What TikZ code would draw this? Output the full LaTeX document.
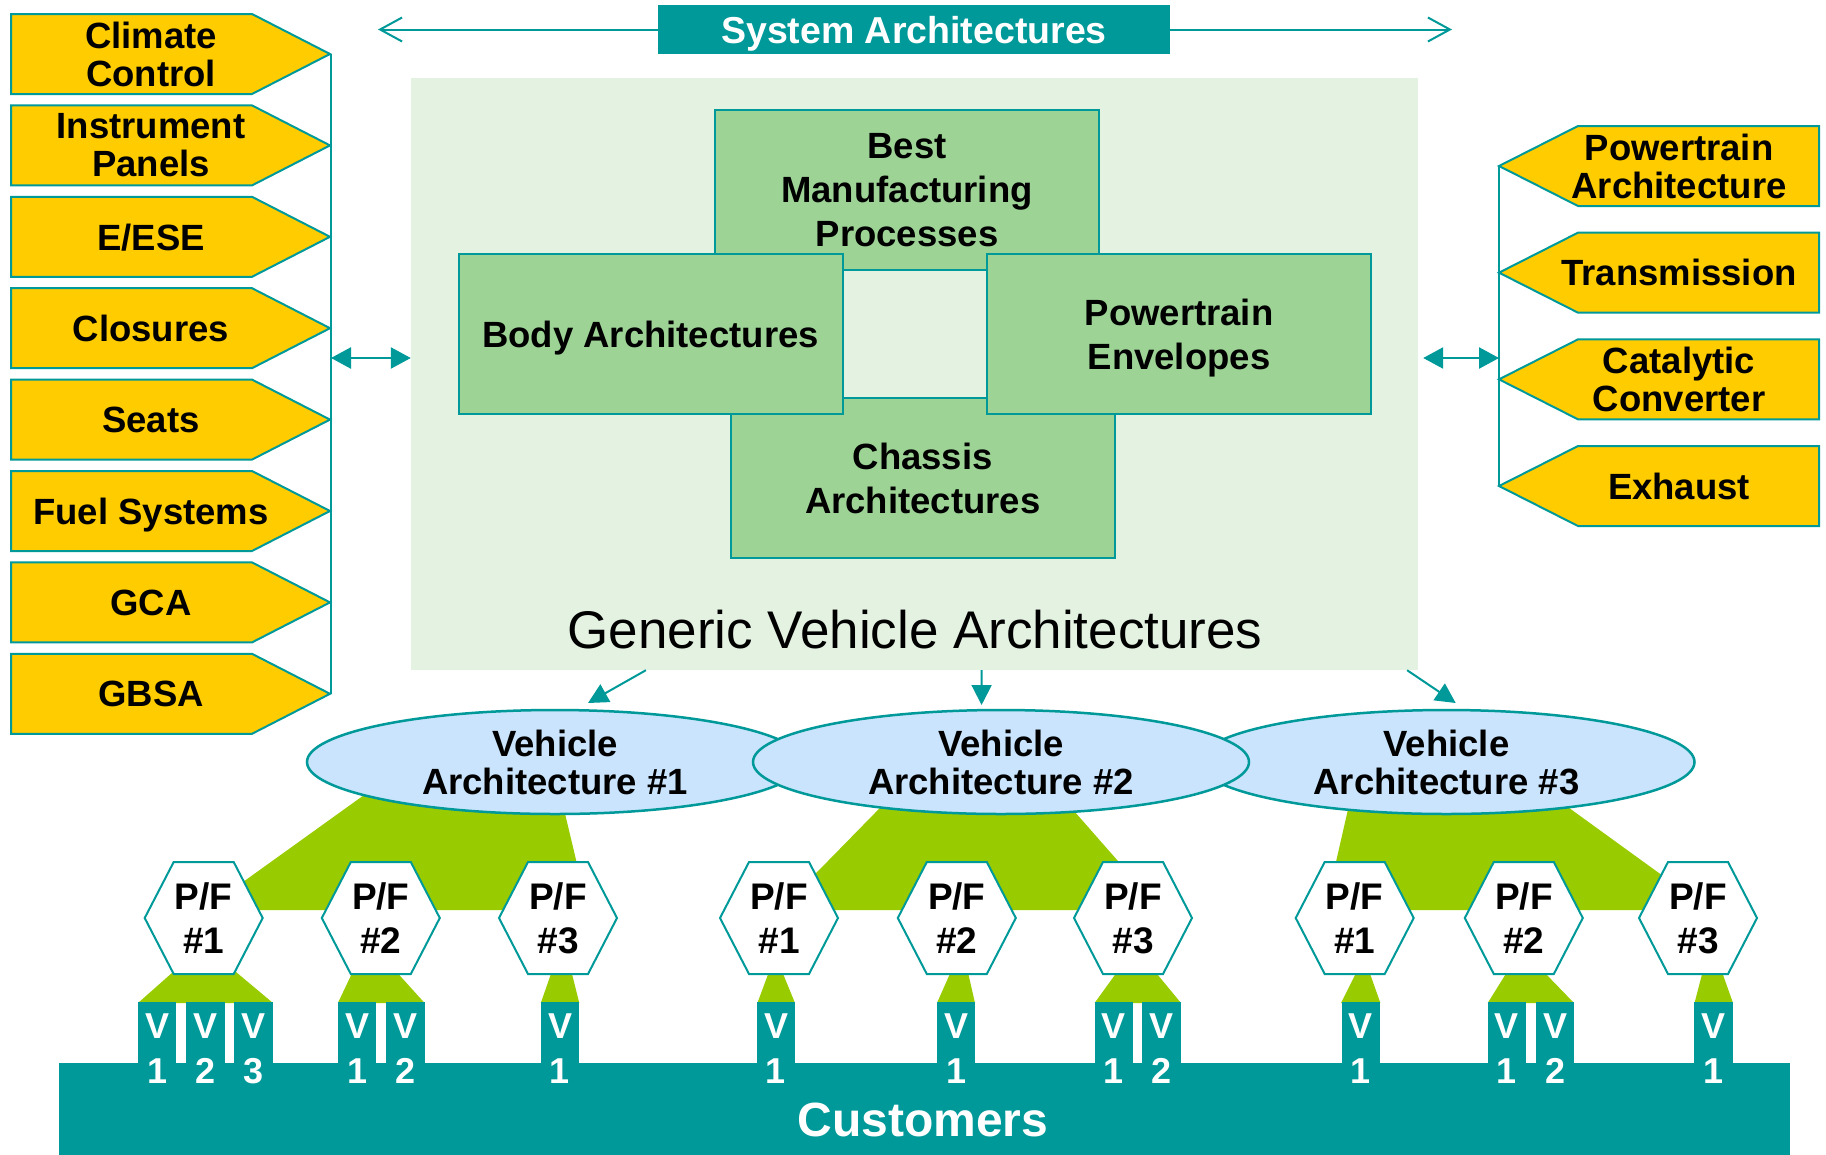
\documentclass[tikz,border=0pt]{standalone}
\usepackage{fontspec}
\setmainfont{Liberation Sans}
\usetikzlibrary{arrows.meta,calc,shapes.geometric}
\definecolor{tealc}{HTML}{009999}
\definecolor{yel}{HTML}{FFCC00}
\definecolor{limec}{HTML}{99CC00}
\definecolor{boxg}{HTML}{9DD496}
\definecolor{bgg}{HTML}{E4F2E2}
\definecolor{ellc}{HTML}{C9E4FC}
\tikzset{
  ybox/.style={fill=yel, draw=tealc, line width=2pt, line join=miter},
  ytext/.style={font=\fontsize{36.5}{38}\selectfont\bfseries, align=center, text depth=0pt, inner sep=0pt},
  bus/.style={draw=tealc, line width=2pt},
  dbl/.style={{Triangle[length=20pt,width=21pt]}-{Triangle[length=20pt,width=21pt]}, draw=tealc, fill=tealc, line width=2.5pt},
  dnarr/.style={-{Triangle[length=20pt,width=20pt]}, draw=tealc, fill=tealc, line width=2pt},
  sysarr/.style={-{Straight Barb[length=22pt,width=24pt]}, draw=tealc, line width=2pt},
  sysbox/.style={fill=tealc, text=white, minimum width=512, minimum height=49, inner sep=0pt, text depth=0pt, font=\fontsize{37.5}{40}\selectfont\bfseries},
  bgbox/.style={fill=bgg, minimum width=1007, minimum height=592, inner sep=0pt},
  ibox/.style={fill=boxg, draw=tealc, line width=2pt, minimum width=384, minimum height=160, inner sep=0pt, align=center, text depth=0pt, font=\fontsize{36.5}{44}\selectfont\bfseries},
  gentext/.style={font=\fontsize{53}{60}\selectfont, inner sep=0pt, text depth=0pt},
  vaell/.style={ellipse, fill=ellc, draw=tealc, line width=2.5pt, minimum width=496, minimum height=104, inner sep=0pt, align=center, text depth=0pt, font=\fontsize{36.5}{38}\selectfont\bfseries},
  fan/.style={fill=limec},
  hexs/.style={fill=white, draw=tealc, line width=2pt, line join=miter},
  hext/.style={align=center, inner sep=0pt, text depth=0pt, font=\fontsize{37}{44}\selectfont\bfseries},
  vbox/.style={anchor=north, fill=tealc, text=white, minimum width=38.5, inner xsep=0pt, inner ysep=11.3pt, align=center, text depth=0pt, font=\fontsize{36}{45}\selectfont\bfseries},
  custbar/.style={fill=tealc, minimum width=1731, minimum height=92, inner sep=0pt, anchor=north west},
  custtext/.style={text=white, inner sep=0pt, text depth=0pt, font=\fontsize{48}{52}\selectfont\bfseries}
}
\begin{document}
\begin{tikzpicture}[x=1pt,y=-1pt]
\useasboundingbox (0,0) rectangle (1826,1154);

% background of generic vehicle architectures
\node[bgbox] (gva) at (914.5,374) {};
\node[ibox] (best) at (907,190) {Best\\Manufacturing\\Processes};
\node[ibox] (chassis) at (922.7,478) {Chassis\\Architectures};
\node[ibox] (body) at (650.5,334) {Body Architectures};
\node[ibox] (pte) at (1179,334) {Powertrain\\Envelopes};
\node[gentext] (gen) at (915,629.5) {Generic Vehicle Architectures};

% system architectures
\node[sysbox] (sys) at (914,29.5) {System Architectures};
\coordinate (sysl) at (378,29.5);
\coordinate (sysr) at (1452,29.5);
\draw[sysarr] (sys.west) -- (sysl);
\draw[sysarr] (sys.east) -- (sysr);

% left yellow boxes
\foreach \i/\txt in {0/{Climate\\Control},1/{Instrument\\Panels},2/{E/ESE},3/{Closures},4/{Seats},5/{Fuel Systems},6/{GCA},7/{GBSA}}{
  \pgfmathsetmacro\t{14+91.4*\i}
  \draw[ybox] (11,\t) -- (252,\t) -- (330,{\t+40}) -- (252,{\t+80}) -- (11,{\t+80}) -- cycle;
  \node[ytext] (l\i) at (151,{\t+40}) {\txt};
  \coordinate (lt\i) at (331,{\t+40});
}
\draw[bus] (lt0) -- (lt7);
\coordinate (lbus) at (331,358);
\draw[dbl] (lbus) -- (gva.west |- lbus);

% right yellow boxes
\foreach \i/\txt in {0/{Powertrain\\Architecture},1/{Transmission},2/{Catalytic\\Converter},3/{Exhaust}}{
  \pgfmathsetmacro\t{126+106.67*\i}
  \draw[ybox] (1819,\t) -- (1578,\t) -- (1499,{\t+40}) -- (1578,{\t+80}) -- (1819,{\t+80}) -- cycle;
  \node[ytext] (r\i) at (1679,{\t+40}) {\txt};
  \coordinate (rt\i) at (1499,{\t+40});
}
\draw[bus] (rt0) -- (rt3);
\coordinate (rbus) at (1499,358);
\draw[dbl, shorten <=5pt] (gva.east |- rbus) -- (rbus);

% big fans
\fill[fan] (385,780) -- (557,780) -- (588,910) -- (204,910) -- cycle;
\fill[fan] (897.5,790) -- (1055.6,790) -- (1161,910) -- (780,910) -- cycle;
\fill[fan] (1352.4,790) -- (1544.3,790) -- (1710,910) -- (1325,910) -- cycle;

% vehicle architectures
\node[vaell] (va1) at (555,762) {Vehicle\\Architecture \#1};
\node[vaell] (va3) at (1446.5,762) {Vehicle\\Architecture \#3};
\node[vaell] (va2) at (1001,762) {Vehicle\\Architecture \#2};

\coordinate (a1e) at (588,703);
\coordinate (a2e) at (981.6,705);
\coordinate (a3e) at (1455.7,703);
\draw[dnarr] ($(gva.south west)!0.2334!(gva.south east)$) -- (a1e);
\draw[dnarr] ($(gva.south west)!0.5666!(gva.south east)$) -- (a2e);
\draw[dnarr] ($(gva.south west)!0.989!(gva.south east)$) -- (a3e);

% small fans
\foreach \a/\b/\c/\d in {173/236/138/273, 352.6/396.6/337.9/424.6, 551.6/571.5/540.8/579.3,
  768.9/782.3/757.4/795, 950.7/967.9/937/975, 1117/1155.4/1094.6/1181,
  1356.5/1369.4/1341/1380.4, 1507/1544/1487.7/1574, 1702.6/1722/1694.5/1733}{
  \fill[fan] (\a,972) -- (\b,972) -- (\d,1003) -- (\c,1003) -- cycle;
}

% platforms
\foreach \c/\n/\p in {203.7/h11/1, 380.8/h12/2, 558/h13/3, 779/h21/1, 956.8/h22/2, 1133/h23/3, 1354.7/h31/1, 1523.8/h32/2, 1698/h33/3}{
  \draw[hexs] ({\c-59},918) -- ({\c-30},862) -- ({\c+30},862) -- ({\c+59},918) -- ({\c+30},974) -- ({\c-30},974) -- cycle;
  \node[hext] (\n) at (\c,918) {P/F\\\#\p};
}

% customers
\node[custbar] (cust) at (59,1063) {};
\node[custtext] (custt) at (923,1120) {Customers};

% vehicles
\foreach \c/\k/\n in {157.2/1/v111, 205.4/2/v112, 253.5/3/v113, 357.1/1/v121, 405.4/2/v122, 560/1/v131,
  776/1/v211, 956/1/v221, 1113.9/1/v231, 1161.7/2/v232,
  1360.8/1/v311, 1506.9/1/v321, 1555/2/v322, 1713.6/1/v331}{
  \node[vbox] (\n) at (\c,1002) {V\\\k};
}
\end{tikzpicture}
\end{document}
